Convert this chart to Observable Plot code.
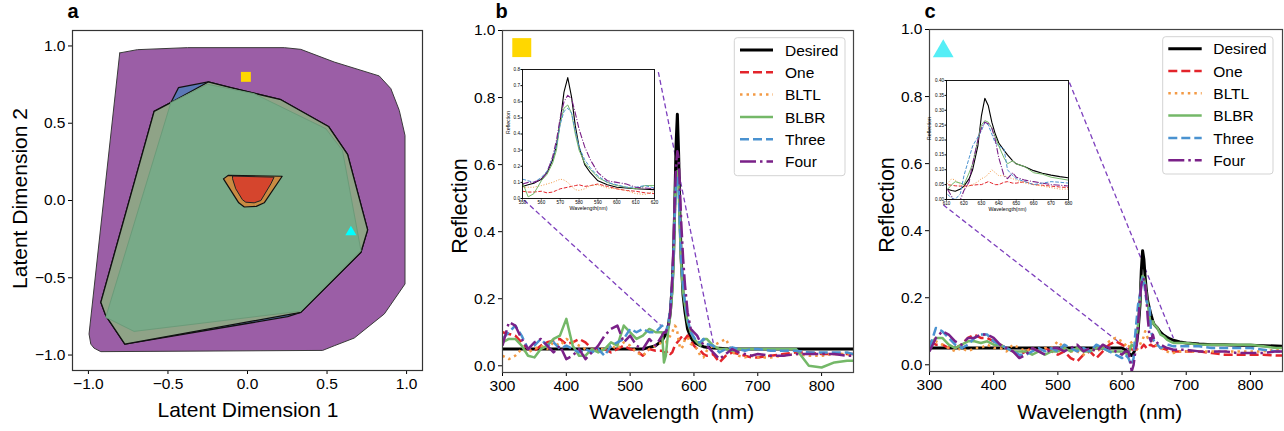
<!DOCTYPE html>
<html><head><meta charset="utf-8">
<script src="https://cdn.jsdelivr.net/npm/d3@7"></script>
<script src="https://cdn.jsdelivr.net/npm/@observablehq/plot@0.6"></script>
<style>
body{margin:0;background:#fff;overflow:hidden;}
#fig{position:relative;width:1284px;height:431px;font-family:"Liberation Sans",Arial,sans-serif;overflow:hidden;background:#fff;}
#fig > svg{position:absolute;}
</style></head><body><div id="fig"></div>
<script>
// ---------------- DATA ----------------
// Panel a: latent-space hulls (x, y pairs)
const purpleHull = [[-0.803,0.955],[-0.692,0.976],[-0.377,0.989],[0.231,0.989],[0.335,0.978],[0.545,0.896],[0.828,0.806],[0.901,0.724],[0.954,0.583],[0.990,0.421],[0.990,-0.540],[0.860,-0.734],[0.671,-0.890],[0.545,-0.940],[0.472,-0.970],[-0.922,-0.978],[-0.965,-0.955],[-0.985,-0.929],[-0.996,-0.864]];
const blueHull = [[-0.587,0.577],[-0.482,0.633],[-0.434,0.730],[-0.247,0.767],[-0.105,0.730],[0.210,0.652],[0.509,0.479],[0.629,0.298],[0.755,-0.190],[0.713,-0.335],[0.335,-0.724],[0.252,-0.752],[-0.771,-0.929],[-0.891,-0.745],[-0.922,-0.659]];
const oliveHull = [[-0.587,0.577],[-0.482,0.633],[-0.247,0.767],[-0.105,0.730],[0.210,0.652],[0.509,0.479],[0.629,0.298],[0.755,-0.190],[0.713,-0.335],[0.335,-0.724],[-0.771,-0.929],[-0.891,-0.745],[-0.922,-0.659]];
const greenHull = [[-0.482,0.633],[-0.252,0.752],[0.042,0.691],[0.493,0.464],[0.597,0.324],[0.713,-0.324],[0.335,-0.716],[-0.713,-0.847],[-0.891,-0.756]];
const orangeHull = [[-0.151,0.140],[-0.120,0.163],[0.218,0.157],[0.105,-0.015],[0.055,-0.038],[-0.020,-0.042],[-0.055,-0.015]];
const redHull = [[-0.094,0.158],[0.167,0.151],[0.147,0.108],[0.084,0.0],[0.042,-0.015],[-0.011,-0.011],[-0.032,0.005],[-0.074,0.076],[-0.094,0.141]];
const squarePointA = [-0.01, 0.80];
const trianglePointA = [0.65, -0.205];
const latentTicks = [-1.0, -0.5, 0.0, 0.5, 1.0];

// Panels b/c: series
const seriesNames = ["Desired","One","BLTL","BLBR","Three","Four"];

const wlB = [300,310,320,330,340,350,360,370,380,390,400,410,420,430,440,450,460,470,480,490,500,510,520,530,540,
 550,553,556,560,563,566,568,570,572,574,576,578,580,583,586,590,595,600,605,610,615,620,
 630,640,650,660,670,680,690,700,720,740,760,780,800,820,840,850];
const desiredB = [0.05,0.05,0.05,0.05,0.05,0.05,0.05,0.05,0.05,0.05,0.05,0.05,0.05,0.05,0.05,0.05,0.05,0.05,0.05,0.05,0.05,0.05,0.05,0.055,0.06,
 0.075,0.085,0.095,0.12,0.16,0.24,0.33,0.48,0.66,0.75,0.63,0.45,0.32,0.21,0.16,0.11,0.085,0.07,0.065,0.06,0.057,0.055,
 0.053,0.052,0.051,0.05,0.05,0.05,0.05,0.05,0.05,0.05,0.05,0.05,0.05,0.05,0.05,0.05];
const oneB = [0.1,0.095,0.09,0.07,0.05,0.045,0.06,0.07,0.075,0.08,0.065,0.07,0.08,0.07,0.05,0.045,0.05,0.04,0.05,0.06,0.05,0.045,0.03,0.05,0.045,
 0.045,0.04,0.04,0.045,0.035,0.04,0.05,0.06,0.065,0.07,0.075,0.08,0.085,0.075,0.08,0.09,0.075,0.06,0.05,0.045,0.035,0.03,
 0.035,0.01,0.03,0.04,0.035,0.03,0.025,0.025,0.03,0.035,0.04,0.04,0.035,0.035,0.035,0.035];
const bltlB = [0.03,0.02,0.03,0.05,0.04,0.05,0.06,0.05,0.07,0.06,0.08,0.07,0.06,0.05,0.04,0.05,0.05,0.06,0.05,0.07,0.06,0.04,0.03,0.05,0.06,
 0.07,0.07,0.07,0.08,0.09,0.1,0.11,0.12,0.115,0.1,0.075,0.055,0.05,0.06,0.08,0.085,0.065,0.06,0.05,0.03,0.025,0.045,
 0.06,0.07,0.08,0.04,0.03,0.025,0.03,0.025,0.025,0.03,0.035,0.03,0.03,0.035,0.035,0.03];
const blbrB = [0.07,0.08,0.08,0.06,0.03,0.025,0.05,0.06,0.08,0.09,0.14,0.06,0.03,0.03,0.05,0.04,0.05,0.07,0.06,0.12,0.1,0.08,0.09,0.11,0.1,
 0.1,0.01,0.03,0.11,0.15,0.22,0.3,0.47,0.56,0.58,0.53,0.4,0.3,0.22,0.18,0.13,0.1,0.08,0.07,0.06,0.08,0.08,
 0.06,0.05,0.05,0.045,0.05,0.05,0.05,0.05,0.05,0.05,0.05,0.0,-0.005,0.01,0.015,0.015];
const threeB = [0.08,0.1,0.12,0.09,0.05,0.06,0.08,0.06,0.07,0.05,0.06,0.05,0.04,0.05,0.04,0.05,0.03,0.06,0.07,0.08,0.11,0.1,0.11,0.1,0.1,
 0.12,0.11,0.1,0.13,0.17,0.25,0.33,0.46,0.54,0.56,0.53,0.42,0.32,0.24,0.19,0.14,0.1,0.085,0.07,0.07,0.08,0.065,
 0.06,0.04,0.05,0.055,0.05,0.045,0.05,0.05,0.045,0.045,0.045,0.04,0.04,0.04,0.04,0.035];
const fourB = [0.06,0.13,0.12,0.08,0.05,0.07,0.08,0.06,0.04,0.06,0.02,0.03,0.05,0.02,0.04,0.06,0.09,0.11,0.12,0.07,0.09,0.06,0.05,0.08,0.06,
 0.09,0.1,0.1,0.12,0.16,0.26,0.36,0.5,0.6,0.64,0.62,0.53,0.43,0.32,0.24,0.16,0.11,0.1,0.09,0.07,0.065,0.06,
 0.04,0.02,0.035,0.05,0.04,0.035,0.03,0.035,0.03,0.03,0.035,0.035,0.035,0.035,0.03,0.03];

const wlC = [300,310,320,330,340,350,360,370,380,390,400,410,420,430,440,450,460,470,480,490,500,510,520,530,540,550,560,570,580,590,600,
 605,610,613,615,618,620,623,625,628,630,632,634,636,638,640,643,645,648,650,655,660,665,670,675,680,
 690,700,720,740,760,780,800,820,840,850];
const desiredC = [0.05,0.05,0.05,0.05,0.05,0.05,0.05,0.05,0.05,0.05,0.05,0.05,0.05,0.05,0.05,0.05,0.05,0.05,0.05,0.05,0.05,0.05,0.05,0.05,0.05,0.05,0.05,0.05,0.05,0.05,0.05,
 0.045,0.035,0.03,0.028,0.035,0.045,0.07,0.1,0.18,0.28,0.34,0.315,0.26,0.22,0.19,0.165,0.15,0.13,0.12,0.11,0.097,0.088,0.082,0.077,0.073,
 0.068,0.065,0.062,0.06,0.06,0.058,0.058,0.057,0.056,0.055];
const oneC = [0.07,0.06,0.06,0.05,0.05,0.06,0.08,0.09,0.08,0.08,0.07,0.06,0.05,0.04,0.03,0.04,0.05,0.04,0.05,0.04,0.03,0.04,0.02,0.01,0.03,0.04,0.02,0.04,0.06,0.07,0.06,
 0.055,0.05,0.048,0.046,0.045,0.045,0.047,0.048,0.05,0.05,0.055,0.06,0.055,0.05,0.05,0.058,0.06,0.055,0.055,0.06,0.05,0.048,0.045,0.042,0.04,
 0.04,0.04,0.04,0.035,0.03,0.03,0.03,0.03,0.028,0.028];
const bltlC = [0.06,0.07,0.06,0.05,0.04,0.05,0.04,0.05,0.05,0.06,0.05,0.05,0.04,0.06,0.05,0.04,0.05,0.04,0.05,0.05,0.07,0.05,0.04,0.04,0.03,0.05,0.04,0.05,0.07,0.08,0.07,
 0.06,0.05,0.07,0.065,0.05,0.04,0.045,0.05,0.06,0.07,0.075,0.085,0.1,0.09,0.08,0.08,0.075,0.07,0.065,0.055,0.05,0.045,0.04,0.035,0.035,
 0.04,0.04,0.04,0.04,0.04,0.04,0.04,0.04,0.045,0.045];
const blbrC = [0.06,0.08,0.08,0.06,0.05,0.06,0.07,0.07,0.065,0.07,0.06,0.06,0.05,0.04,0.04,0.04,0.03,0.04,0.03,0.04,0.04,0.05,0.04,0.05,0.04,0.04,0.05,0.05,0.04,0.04,0.04,
 0.035,0.03,0.05,0.06,0.055,0.05,0.09,0.12,0.2,0.25,0.265,0.26,0.24,0.21,0.18,0.14,0.12,0.13,0.12,0.11,0.09,0.085,0.075,0.07,0.065,
 0.065,0.065,0.06,0.06,0.06,0.06,0.06,0.055,0.05,0.05];
const threeC = [0.05,0.11,0.1,0.08,0.06,0.05,0.06,0.08,0.09,0.09,0.07,0.06,0.05,0.04,0.03,0.03,0.04,0.05,0.04,0.05,0.04,0.06,0.05,0.04,0.05,0.04,0.06,0.05,0.04,0.03,0.02,
 0.03,0.02,0.005,0.0,0.02,0.08,0.14,0.18,0.21,0.23,0.26,0.25,0.22,0.19,0.18,0.17,0.1,0.08,0.07,0.06,0.05,0.055,0.06,0.058,0.055,
 0.055,0.055,0.055,0.05,0.05,0.05,0.05,0.045,0.04,0.04];
const fourC = [0.04,0.08,0.1,0.09,0.07,0.06,0.08,0.08,0.09,0.09,0.08,0.06,0.05,0.04,0.02,0.03,0.05,0.04,0.03,0.05,0.05,0.04,0.05,0.06,0.04,0.05,0.04,0.06,0.05,0.04,0.03,
 0.04,0.04,0.01,-0.02,0.0,0.03,0.06,0.12,0.2,0.24,0.26,0.255,0.24,0.2,0.14,0.08,0.07,0.09,0.075,0.065,0.06,0.055,0.05,0.048,0.045,
 0.045,0.045,0.04,0.04,0.04,0.035,0.035,0.035,0.04,0.04];

// zoom connectors (main-axis data coords) and markers
const connectorsB = [[333.8,0.494,548,0.12],[544.2,0.876,630.3,0.068]];
const connectorsC = [[321.4,0.477,617,0.035],[518,0.842,680,0.08]];
const markerB = [330.2, 0.949];
const markerC = [321.4, 0.935];

const wlTicks = [300,400,500,600,700,800];
const reflTicks = [0,0.2,0.4,0.6,0.8,1.0];
const insetDomainB = [550,620], insetTicksXB = [550,560,570,580,590,600,610,620], insetTicksYB = [0,0.1,0.2,0.3,0.4,0.5,0.6,0.7,0.8];
const insetDomainC = [610,680], insetTicksXC = [610,620,630,640,650,660,670,680], insetTicksYC = [0,0.05,0.10,0.15,0.20,0.25,0.30,0.35,0.40];

// ---------------- STYLES ----------------
const seriesColors = ["#000000","#e3242b","#f39a45","#74b868","#4a92d0","#7a2188"];
const mainWidths = [3,2.5,2.5,2.5,2.5,2.5];
const mainDash = [null,"9,4","2.5,4",null,"9,4","16,4,2.5,4"];
const insetDash = [null,"3.7,1.6","1,1.65",null,"3.7,1.6","6.4,1.6,1,1.6"];
const FONT = '"Liberation Sans", Arial, sans-serif';

const seriesB = [desiredB,oneB,bltlB,blbrB,threeB,fourB];
const seriesC = [desiredC,oneC,bltlC,blbrC,threeC,fourC];
seriesB.forEach((a,i)=>{ if(a.length!==wlB.length) throw new Error("B length "+seriesNames[i]+" "+a.length); });
seriesC.forEach((a,i)=>{ if(a.length!==wlC.length) throw new Error("C length "+seriesNames[i]+" "+a.length); });

function rows(wl, arrs){ return arrs.map(a => a.map((v,j)=>({wl: wl[j], r: v}))); }
const rowsB = rows(wlB, seriesB), rowsC = rows(wlC, seriesC);

function seriesMarks(rs, widths, dashes, domain, clip){
  return rs.map((data,i) => Plot.line(domain ? data.filter(d=>d.wl>=domain[0]&&d.wl<=domain[1]) : data, {
    x:"wl", y:"r", stroke: seriesColors[i], strokeWidth: widths[i],
    strokeDasharray: dashes[i] || undefined,
    strokeLinecap: dashes[i] ? "butt" : "round", strokeLinejoin:"round", clip: clip
  }));
}
function ring(p){ return p.concat([p[0]]); }
function poly(p, fill, stroke, sw){ return Plot.line(ring(p), {x: d=>d[0], y: d=>d[1], fill, stroke, strokeWidth: sw, strokeLinejoin:"round"}); }

const fig = document.getElementById("fig");
function place(node, left, top){ node.style.position="absolute"; node.style.left=left+"px"; node.style.top=top+"px"; fig.appendChild(node); }
const baseStyle = {background:"transparent", fontFamily: FONT, fontSize:"15.5px", color:"#000", overflow:"visible"};

// ---------------- PANEL A ----------------
const pa = Plot.plot({
  width: 430, height: 431, marginLeft: 72, marginRight: 8, marginTop: 30, marginBottom: 61,
  x: {domain:[-1.1,1.1], ticks: latentTicks, tickFormat: ".1f", tickSize: 4, tickPadding: 3, label: null},
  y: {domain:[-1.1,1.1], ticks: latentTicks, tickFormat: ".1f", tickSize: 4, tickPadding: 3, label: null},
  style: baseStyle,
  marks: [
    poly(purpleHull, "#9b5ea6", "#3a3a3a", 1),
    poly(blueHull, "#5b78b6", "#111", 1.3),
    poly(oliveHull, "#8fa387", "#111", 1.3),
    poly(greenHull, "#78aa88", "#6b9b79", 1),
    poly(orangeHull, "#c98b42", "#111", 1.2),
    poly(redHull, "#d5452d", "#222", 1),
    Plot.dot([squarePointA], {x: d=>d[0], y: d=>d[1], symbol:"square", r: 5.6, fill:"#ffd700"}),
    Plot.dot([trianglePointA], {x: d=>d[0], y: d=>d[1], symbol:"triangle", r: 4.1, fill:"#00ffff"}),
    Plot.frame({stroke:"#333", strokeWidth:1.2})
  ]
});
place(pa, 0, 0);

// ---------------- PANELS B & C ----------------
function mainPanel(rs, conns, marker, markerSymbol, markerColor, markerR, ml, mr, mt, mb, w){
  return Plot.plot({
    width: w, height: 431, marginLeft: ml, marginRight: mr, marginTop: mt, marginBottom: mb,
    x: {domain:[300,850], ticks: wlTicks, tickSize: 4, tickPadding: 3, label: null},
    y: {domain:[-0.02,1.0], ticks: reflTicks, tickFormat: ".1f", tickSize: 4, tickPadding: 3, label: null},
    style: baseStyle,
    marks: [
      Plot.link(conns, {x1: d=>d[0], y1: d=>d[1], x2: d=>d[2], y2: d=>d[3], stroke:"#7d3fbd", strokeWidth:1.3, strokeDasharray:"5,3"}),
      ...seriesMarks(rs, mainWidths, mainDash, null, true),
      Plot.dot([marker], {x: d=>d[0], y: d=>d[1], symbol: markerSymbol, r: markerR, fill: markerColor}),
      Plot.frame({stroke:"#444", strokeWidth:1.2})
    ]
  });
}
place(mainPanel(rowsB, connectorsB, markerB, "square", "#ffd700", 10.7, 72, 7, 30, 59, 430), 430, 0);
place(mainPanel(rowsC, connectorsC, markerC, "triangle", "#55eef6", 7.7, 69, 2, 29, 60, 424), 860, 0);

// ---------------- INSETS ----------------
function inset(rs, domain, ticksX, ticksY, yDomain, yFmt, fw, fh, ylabDx){
  return Plot.plot({
    width: fw+26, height: fh+22, marginLeft: 22, marginRight: 4, marginTop: 4, marginBottom: 18,
    x: {domain, ticks: ticksX, tickSize: 1.5, tickPadding: 0.8, label: null},
    y: {domain: yDomain, ticks: ticksY, tickFormat: yFmt, tickSize: 1.5, tickPadding: 1, label: null},
    style: {...baseStyle, fontSize:"4.6px"},
    marks: [
      Plot.frame({fill:"white"}),
      ...seriesMarks(rs, [1.1,1,1,1,1,1.1], insetDash, [domain[0]-5, domain[1]+5], true),
      Plot.frame({stroke:"#000", strokeWidth:0.9}),
      Plot.text(["Wavelength(nm)"], {text: d=>d, frameAnchor:"bottom", dy: 11, fontSize: 5.2}),
      Plot.text(["Reflection"], {text: d=>d, frameAnchor:"left", dx: ylabDx, rotate: -90, fontSize: 5.2})
    ]
  });
}
place(inset(rowsB, insetDomainB, insetTicksXB, insetTicksYB, [0,0.8], ".1f", 132, 129, -14), 500, 65);
place(inset(rowsC, insetDomainC, insetTicksXC, insetTicksYC, [0,0.40], ".2f", 122, 119, -17), 924, 76);

// ---------------- OVERLAY: titles, letters, legends ----------------
const svg = d3.create("svg").attr("width",1284).attr("height",431)
  .style("position","absolute").style("left","0px").style("top","0px")
  .attr("font-family", FONT);
function txt(x,y,s,size,opts={}){
  const t = svg.append("text").attr("x",x).attr("y",y).attr("font-size",size).attr("fill","#000").text(s);
  if(opts.anchor) t.attr("text-anchor",opts.anchor);
  if(opts.bold) t.attr("font-weight","bold");
  if(opts.rotate) t.attr("transform",`rotate(-90 ${x} ${y})`);
  t.style("white-space","pre");
  return t;
}
txt(67.5,18,"a",20,{bold:true});
txt(495.5,18,"b",20,{bold:true});
txt(924.5,18,"c",20,{bold:true});
txt(248,416.5,"Latent Dimension 1",21,{anchor:"middle"});
txt(26.5,198.5,"Latent Dimension 2",21,{anchor:"middle",rotate:true});
txt(466.5,206,"Reflection",21.5,{anchor:"middle",rotate:true});
txt(894,205,"Reflection",21.5,{anchor:"middle",rotate:true});
txt(671.7,419.3,"Wavelength  (nm)",21,{anchor:"middle"});
txt(1099.7,419,"Wavelength  (nm)",21,{anchor:"middle"});

const legendStep = 22.3;
function legend(x0,y0,w,h,firstY,lx1,lx2,tx){
  const g = svg.append("g");
  g.append("rect").attr("x",x0).attr("y",y0).attr("width",w).attr("height",h).attr("rx",3)
    .attr("fill","white").attr("fill-opacity",0.8).attr("stroke","#d3d3d3").attr("stroke-width",1);
  seriesNames.forEach((n,i)=>{
    const y = firstY + i*legendStep;
    const l = g.append("line").attr("x1",lx1).attr("x2",lx2).attr("y1",y).attr("y2",y)
      .attr("stroke",seriesColors[i]).attr("stroke-width",mainWidths[i])
      .attr("stroke-linecap","butt");
    if(mainDash[i]) l.attr("stroke-dasharray", mainDash[i]);
    g.append("text").attr("x",tx).attr("y",y+5.6).attr("font-size",15.5).attr("fill","#000").text(n);
  });
}
legend(734.3,37.7,110.7,138,50,740,773,785);
legend(1162.7,36.7,110.3,137.3,48.7,1168.3,1201.7,1213.3);
fig.appendChild(svg.node());
</script></body></html>
